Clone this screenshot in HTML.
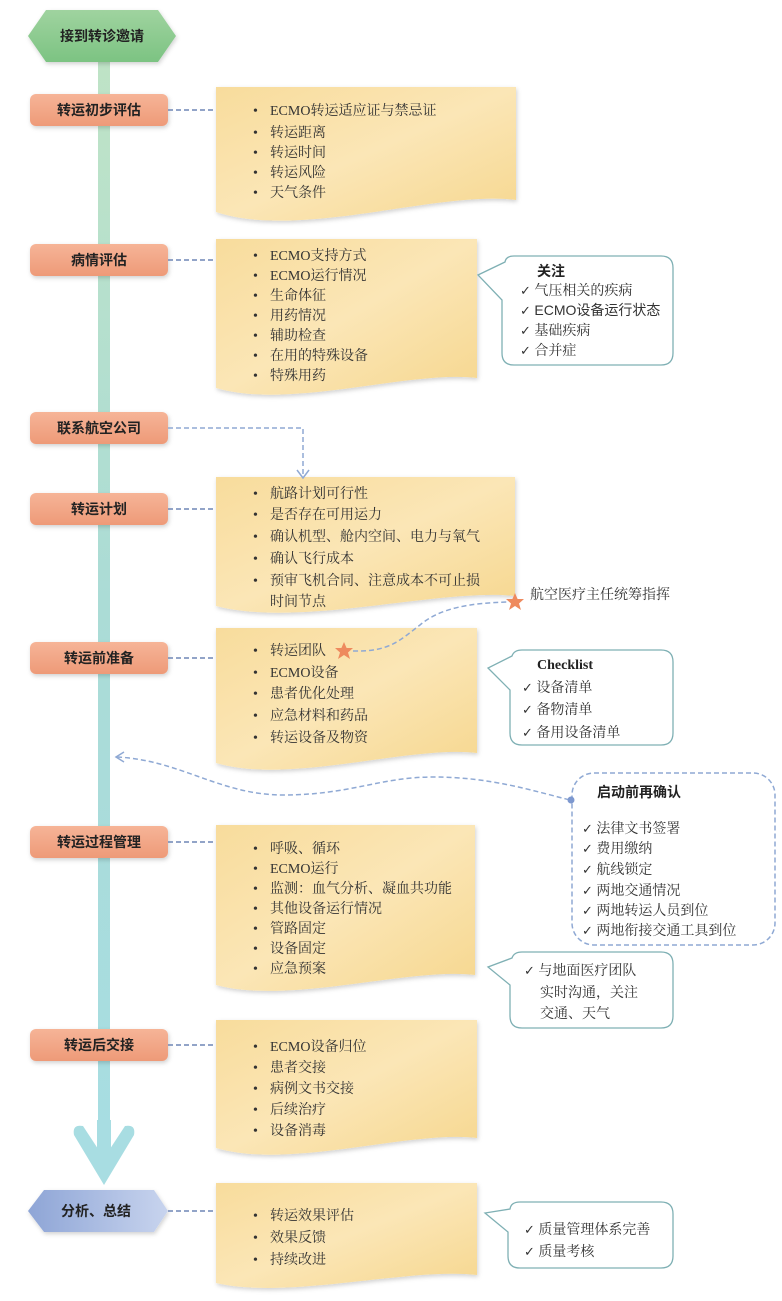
<!DOCTYPE html>
<html><head><meta charset="utf-8"><style>
html,body{margin:0;padding:0;background:#fff;}
svg{display:block;}
text{font-family:"Liberation Serif","Noto Serif CJK SC","Noto Sans CJK SC",serif;fill:#333;font-size:14px;}
.b{font-family:"Liberation Sans","Noto Sans CJK SC",sans-serif;font-weight:bold;font-size:14px;fill:#222;}
.c{font-family:"DejaVu Sans",sans-serif;font-size:13px;}
</style></head><body>
<svg width="782" height="1301" viewBox="0 0 782 1301" xmlns="http://www.w3.org/2000/svg">
<defs>
<linearGradient id="bar" x1="0" y1="0" x2="0" y2="1"><stop offset="0" stop-color="#bfe3c6"/><stop offset="0.5" stop-color="#abdcd6"/><stop offset="1" stop-color="#a7dde2"/></linearGradient>
<linearGradient id="note" x1="0" y1="0" x2="1" y2="1"><stop offset="0" stop-color="#f8dc9c"/><stop offset="0.5" stop-color="#fbe6b6"/><stop offset="1" stop-color="#f6d78f"/></linearGradient>
<linearGradient id="org" x1="0" y1="0" x2="0" y2="1"><stop offset="0" stop-color="#f6b497"/><stop offset="1" stop-color="#ee9a78"/></linearGradient>
<linearGradient id="grn" x1="0" y1="0" x2="0" y2="1"><stop offset="0" stop-color="#9fd39f"/><stop offset="1" stop-color="#7cc382"/></linearGradient>
<linearGradient id="blu" x1="0" y1="0" x2="1" y2="0"><stop offset="0" stop-color="#8ea5d6"/><stop offset="1" stop-color="#c8d4ee"/></linearGradient>
<filter id="sh" x="-10%" y="-10%" width="130%" height="130%"><feDropShadow dx="1" dy="2" stdDeviation="2" flood-color="#000" flood-opacity="0.18"/></filter>
</defs>

<rect x="98" y="60" width="12" height="1080" fill="url(#bar)"/>
<path d="M104 1185 L74 1135 Q72 1124 83 1126 L104 1158 L125 1126 Q136 1124 134 1135 Z" fill="#a8dde2"/>
<rect x="97" y="1120" width="14" height="45" fill="#a8dde2"/>

<polygon points="28,36 46,10 158,10 176,36 158,62 46,62" fill="url(#grn)" filter="url(#sh)"/>
<text class="b" x="102" y="41" text-anchor="middle">接到转诊邀请</text>

<g filter="url(#sh)">
<rect x="30" y="94" width="138" height="32" rx="6" fill="url(#org)"/>
<rect x="30" y="244" width="138" height="32" rx="6" fill="url(#org)"/>
<rect x="30" y="412" width="138" height="32" rx="6" fill="url(#org)"/>
<rect x="30" y="493" width="138" height="32" rx="6" fill="url(#org)"/>
<rect x="30" y="642" width="138" height="32" rx="6" fill="url(#org)"/>
<rect x="30" y="826" width="138" height="32" rx="6" fill="url(#org)"/>
<rect x="30" y="1029" width="138" height="32" rx="6" fill="url(#org)"/>
</g>
<text class="b" x="99" y="115" text-anchor="middle">转运初步评估</text>
<text class="b" x="99" y="265" text-anchor="middle">病情评估</text>
<text class="b" x="99" y="433" text-anchor="middle">联系航空公司</text>
<text class="b" x="99" y="514" text-anchor="middle">转运计划</text>
<text class="b" x="99" y="663" text-anchor="middle">转运前准备</text>
<text class="b" x="99" y="847" text-anchor="middle">转运过程管理</text>
<text class="b" x="99" y="1050" text-anchor="middle">转运后交接</text>

<polygon points="28,1211 44,1190 154,1190 168,1211 154,1232 44,1232" fill="url(#blu)" filter="url(#sh)"/>
<text class="b" x="96" y="1216" text-anchor="middle">分析、总结</text>

<g stroke="#6f86b5" stroke-width="1.5" stroke-dasharray="5,3" fill="none">
<line x1="168" y1="110" x2="216" y2="110"/>
<line x1="168" y1="260" x2="216" y2="260"/>
<line x1="168" y1="509" x2="216" y2="509"/>
<line x1="168" y1="658" x2="216" y2="658"/>
<line x1="168" y1="842" x2="216" y2="842"/>
<line x1="168" y1="1045" x2="216" y2="1045"/>
<line x1="168" y1="1211" x2="216" y2="1211"/>
</g>

<g filter="url(#sh)" fill="url(#note)">
<path d="M216 87 H516 V200 C440 190 300 240 216 212 Z"/>
<path d="M216 239 H477 V378 C410 370 290 410 216 388 Z"/>
<path d="M216 477 H515 V596 C440 588 300 628 216 606 Z"/>
<path d="M216 628 H477 V753 C410 745 290 785 216 763 Z"/>
<path d="M216 825 H475 V975 C410 967 290 1005 216 985 Z"/>
<path d="M216 1020 H477 V1138 C410 1130 290 1170 216 1148 Z"/>
<path d="M216 1183 H477 V1275 C410 1267 290 1300 216 1283 Z"/>
</g>

<g stroke="#8fa9d4" stroke-width="1.5" stroke-dasharray="5,3" fill="none">
<path d="M168 428 H303 V474"/>
<path d="M353 651 C 390 652, 400 640, 420 625 C 440 608, 470 603, 508 602"/>
<path d="M117 757 C 180 760, 220 795, 283 795 C 350 795, 380 777, 433 777 C 490 777, 530 790, 570 800"/>
</g>
<path d="M297 470 L303 478 L309 470" stroke="#8fa9d4" stroke-width="1.5" fill="none"/>
<path d="M124 752 L116 757 L124 762" stroke="#8fa9d4" stroke-width="1.5" fill="none"/>

<g>
<text x="253" y="115">•</text><text x="270" y="115">ECMO转运适应证与禁忌证</text>
<text x="253" y="137">•</text><text x="270" y="137">转运距离</text>
<text x="253" y="157">•</text><text x="270" y="157">转运时间</text>
<text x="253" y="177">•</text><text x="270" y="177">转运风险</text>
<text x="253" y="197">•</text><text x="270" y="197">天气条件</text>

<text x="253" y="260">•</text><text x="270" y="260">ECMO支持方式</text>
<text x="253" y="280">•</text><text x="270" y="280">ECMO运行情况</text>
<text x="253" y="300">•</text><text x="270" y="300">生命体征</text>
<text x="253" y="320">•</text><text x="270" y="320">用药情况</text>
<text x="253" y="340">•</text><text x="270" y="340">辅助检查</text>
<text x="253" y="360">•</text><text x="270" y="360">在用的特殊设备</text>
<text x="253" y="380">•</text><text x="270" y="380">特殊用药</text>

<text x="253" y="498">•</text><text x="270" y="498">航路计划可行性</text>
<text x="253" y="519">•</text><text x="270" y="519">是否存在可用运力</text>
<text x="253" y="541">•</text><text x="270" y="541">确认机型、舱内空间、电力与氧气</text>
<text x="253" y="563">•</text><text x="270" y="563">确认飞行成本</text>
<text x="253" y="585">•</text><text x="270" y="585">预审飞机合同、注意成本不可止损</text>
<text x="270" y="606">时间节点</text>

<text x="253" y="655">•</text><text x="270" y="655">转运团队</text>
<text x="253" y="677">•</text><text x="270" y="677">ECMO设备</text>
<text x="253" y="698">•</text><text x="270" y="698">患者优化处理</text>
<text x="253" y="720">•</text><text x="270" y="720">应急材料和药品</text>
<text x="253" y="742">•</text><text x="270" y="742">转运设备及物资</text>

<text x="253" y="853">•</text><text x="270" y="853">呼吸、循环</text>
<text x="253" y="873">•</text><text x="270" y="873">ECMO运行</text>
<text x="253" y="893">•</text><text x="270" y="893">监测：血气分析、凝血共功能</text>
<text x="253" y="913">•</text><text x="270" y="913">其他设备运行情况</text>
<text x="253" y="933">•</text><text x="270" y="933">管路固定</text>
<text x="253" y="953">•</text><text x="270" y="953">设备固定</text>
<text x="253" y="973">•</text><text x="270" y="973">应急预案</text>

<text x="253" y="1051">•</text><text x="270" y="1051">ECMO设备归位</text>
<text x="253" y="1072">•</text><text x="270" y="1072">患者交接</text>
<text x="253" y="1093">•</text><text x="270" y="1093">病例文书交接</text>
<text x="253" y="1114">•</text><text x="270" y="1114">后续治疗</text>
<text x="253" y="1135">•</text><text x="270" y="1135">设备消毒</text>

<text x="253" y="1220">•</text><text x="270" y="1220">转运效果评估</text>
<text x="253" y="1242">•</text><text x="270" y="1242">效果反馈</text>
<text x="253" y="1264">•</text><text x="270" y="1264">持续改进</text>
</g>

<polygon points="0,-9 2.6,-3 9,-3 4,1.5 6,8 0,4 -6,8 -4,1.5 -9,-3 -2.6,-3" fill="#ee8a5e" transform="translate(344,651)"/>
<polygon points="0,-9 2.6,-3 9,-3 4,1.5 6,8 0,4 -6,8 -4,1.5 -9,-3 -2.6,-3" fill="#ee8a5e" transform="translate(515,602)"/>
<text x="530" y="599">航空医疗主任统筹指挥</text>

<g fill="#fff" stroke="#7fb0b4" stroke-width="1.3">
<path d="M514 256 H661 Q673 256 673 268 V353 Q673 365 661 365 H514 Q502 365 502 353 V300 L478 275 L505 262 Q506 256 514 256 Z"/>
<path d="M522 650 H661 Q673 650 673 662 V733 Q673 745 661 745 H522 Q510 745 510 733 V690 L488 668 L512 656 Q514 650 522 650 Z"/>
<path d="M522 952 H661 Q673 952 673 964 V1016 Q673 1028 661 1028 H522 Q510 1028 510 1016 V985 L488 967 L512 958 Q514 952 522 952 Z"/>
<path d="M520 1202 H661 Q673 1202 673 1214 V1256 Q673 1268 661 1268 H520 Q508 1268 508 1256 V1232 L485 1213 L510 1209 Q511 1202 520 1202 Z"/>
</g>
<rect x="572" y="773" width="203" height="172" rx="22" fill="#fff" stroke="#8fa9d4" stroke-width="1.5" stroke-dasharray="5,3"/>
<circle cx="571" cy="800" r="3.5" fill="#7d98cf"/>

<text class="b" x="537" y="276">关注</text>
<text x="520" y="295"><tspan class="c">✓</tspan> 气压相关的疾病</text>
<text x="520" y="315"><tspan class="c">✓</tspan> <tspan style="font-family:'Liberation Sans','Noto Sans CJK SC',sans-serif">ECMO设备运行状态</tspan></text>
<text x="520" y="335"><tspan class="c">✓</tspan> 基础疾病</text>
<text x="520" y="355"><tspan class="c">✓</tspan> 合并症</text>

<text x="537" y="669" style="font-weight:bold;font-size:14px;fill:#222">Checklist</text>
<text x="522" y="692"><tspan class="c">✓</tspan> 设备清单</text>
<text x="522" y="714"><tspan class="c">✓</tspan> 备物清单</text>
<text x="522" y="737"><tspan class="c">✓</tspan> 备用设备清单</text>

<text class="b" x="597" y="797">启动前再确认</text>
<text x="582" y="833"><tspan class="c">✓</tspan> 法律文书签署</text>
<text x="582" y="853"><tspan class="c">✓</tspan> 费用缴纳</text>
<text x="582" y="874"><tspan class="c">✓</tspan> 航线锁定</text>
<text x="582" y="895"><tspan class="c">✓</tspan> 两地交通情况</text>
<text x="582" y="915"><tspan class="c">✓</tspan> 两地转运人员到位</text>
<text x="582" y="935"><tspan class="c">✓</tspan> 两地衔接交通工具到位</text>

<text x="524" y="975"><tspan class="c">✓</tspan> 与地面医疗团队</text>
<text x="540" y="997">实时沟通，关注</text>
<text x="540" y="1018">交通、天气</text>

<text x="524" y="1234"><tspan class="c">✓</tspan> 质量管理体系完善</text>
<text x="524" y="1256"><tspan class="c">✓</tspan> 质量考核</text>
</svg>
</body></html>
